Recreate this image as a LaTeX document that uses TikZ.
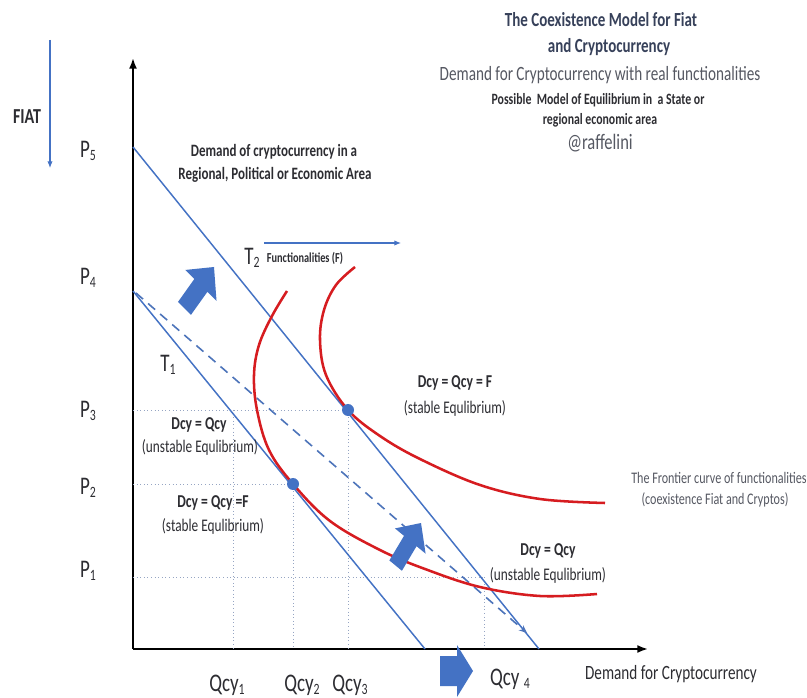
\documentclass[tikz,border=0pt]{standalone}
\usepackage{fontspec}
\setmainfont{Carlito}[FakeStretch=0.75]
\usetikzlibrary{arrows.meta}
\definecolor{lblue}{RGB}{68,114,196}
\definecolor{rred}{RGB}{214,28,32}
\definecolor{txt}{RGB}{45,45,50}
\definecolor{ttl}{RGB}{55,65,90}
\definecolor{subt}{RGB}{85,88,98}
\definecolor{dotc}{RGB}{150,165,195}
\newcommand\fsz[1]{\fontsize{#1}{#1}\selectfont}
\newcommand\lowsub[1]{\raisebox{-0.3ex}{\fontsize{0.62em}{0.62em}\selectfont #1}}
\tikzset{
  lbl/.style={inner sep=0pt, text=txt},
  bluel/.style={draw=lblue, line width=1.1pt},
  redc/.style={draw=rred, line width=1.9pt},
  guide/.style={draw=dotc, line width=0.7pt, dotted},
  blockarr/.style={fill=lblue},
  eqdot/.style={circle, fill=lblue, minimum size=9pt, inner sep=0pt},
}
\begin{document}
\begin{tikzpicture}[x=0.75pt,y=-0.75pt]
\useasboundingbox (0,0) rectangle (807,698);
\fill[white] (0,0) rectangle (807,698);

% title block
\node[lbl, text=ttl, font=\fsz{15}\bfseries] (t1) at (601,20) {The Coexistence Model for Fiat};
\node[lbl, text=ttl, font=\fsz{15}\bfseries] (t2) at (609,47) {and Cryptocurrency};
\node[lbl, text=subt, font=\fsz{15.2}] (t3) at (600,75) {Demand for Cryptocurrency with real functionalities};
\node[lbl, font=\fsz{11.8}\bfseries] (t4) at (598,100) {Possible\ \ Model of Equilibrium in\ \ a State or};
\node[lbl, font=\fsz{11.8}\bfseries] (t5) at (600,120) {regional economic area};
\node[lbl, text=subt, font=\fsz{16.5}] (t6) at (600,143) {@raffelini};

% axes
\coordinate (O) at (133,649);
\coordinate (ytop) at (133,58);
\coordinate (xend) at (648,649);
\draw[line width=1.5pt, -{Latex[length=8pt,width=6pt]}] (O) -- (ytop);
\draw[line width=1.5pt, -{Latex[length=8pt,width=6pt]}] (O) -- (xend);

% FIAT
\node[lbl, font=\fsz{16}\bfseries] (fiat) at (27,117) {FIAT};
\coordinate (fa1) at (50,40);
\coordinate (fa2) at (50,168);
\draw[draw=lblue, line width=0.8pt, -{Latex[length=5pt,width=4pt]}] (fa1) -- (fa2);

% P labels
\node[lbl, font=\fsz{19}] (p5) at (88,151) {P\lowsub{5}};
\node[lbl, font=\fsz{19}] (p4) at (88,278) {P\lowsub{4}};
\node[lbl, font=\fsz{19}] (p3) at (88,411) {P\lowsub{3}};
\node[lbl, font=\fsz{19}] (p2) at (88,488) {P\lowsub{2}};
\node[lbl, font=\fsz{19}] (p1) at (88,571) {P\lowsub{1}};

% guide lines
\coordinate (d3) at (348,410);
\coordinate (d2) at (293,484);
\coordinate (g1) at (484,577);
\draw[guide] (133,410) -- (d3);
\draw[guide] (133,484) -- (d2);
\draw[guide] (133,577) -- (g1);
\draw[guide] (233,410) -- (233,649);
\draw[guide] (d2) -- (293,649);
\draw[guide] (d3) -- (348,649);
\draw[guide] (g1) -- (484,649);

% demand lines
\coordinate (T2a) at (133,147);
\coordinate (T2b) at (539,649);
\coordinate (T1a) at (133,291);
\coordinate (T1b) at (425,649);
\coordinate (Da) at (136,293);
\coordinate (Db) at (527,633);
\draw[bluel] (T2a) -- (T2b);
\draw[bluel] (T1a) -- (T1b);
\draw[draw=lblue!85!gray, line width=1.2pt, dash pattern=on 7pt off 5pt, -{Stealth[length=6pt,width=5pt]}] (Da) -- (Db);

% red frontier curves
\draw[redc] plot[smooth, tension=0.6] coordinates {(287,291) (272,316) (259,345) (254,375) (257,410) (269,450) (293,484) (330,521) (380,550) (425,569) (480,587) (540,596) (597,594)};
\draw[redc] plot[smooth, tension=0.6] coordinates {(355,267) (336,285) (324,310) (320,340) (326,375) (348,410) (380,436) (420,459) (480,485) (540,499) (605,503)};

% equilibrium dots
\node[eqdot] (e3) at (d3) {};
\node[eqdot] (e2) at (d2) {};

% block arrows
\fill[blockarr, shift={(214,267)}, xscale=0.85, rotate=50] (0,0) -- (-24,24) -- (-24,10) -- (-54,10) -- (-54,-10) -- (-24,-10) -- (-24,-24) -- cycle;
\fill[blockarr, shift={(421,523)}, xscale=0.85, rotate=55] (0,0) -- (-22,22) -- (-22,9) -- (-52,9) -- (-52,-9) -- (-22,-9) -- (-22,-22) -- cycle;
\fill[blockarr, shift={(473,671)}] (0,0) -- (-16,-26) -- (-16,-15) -- (-33,-15) -- (-33,15) -- (-16,15) -- (-16,26) -- cycle;

% labels in plot
\node[lbl, font=\fsz{13}\bfseries] (dem1) at (274,152) {Demand of cryptocurrency in a};
\node[lbl, font=\fsz{13}\bfseries] (dem2) at (275,175) {Regional, Political or Economic Area};
\node[lbl, font=\fsz{19}] (tt2) at (252,258) {T\lowsub{2}};
\node[lbl, font=\fsz{19}] (tt1) at (168,365) {T\lowsub{1}};
\node[lbl, font=\fsz{10.3}\bfseries] (func) at (305,258) {Functionalities (F)};
\coordinate (fn1) at (264,243);
\coordinate (fn2) at (401,243);
\draw[draw=lblue, line width=0.8pt, -{Latex[length=5pt,width=4pt]}] (fn1) -- (fn2);

\node[lbl, font=\fsz{13.6}\bfseries] (q1a) at (199,425) {Dcy = Qcy};
\node[lbl, font=\fsz{13.3}] (q1b) at (200,447) {(unstable Equlibrium)};
\node[lbl, font=\fsz{13.6}\bfseries] (q2a) at (213,503) {Dcy = Qcy =F};
\node[lbl, font=\fsz{13.3}] (q2b) at (213,526) {(stable Equlibrium)};
\node[lbl, font=\fsz{13.6}\bfseries] (q3a) at (455,383) {Dcy = Qcy = F};
\node[lbl, font=\fsz{13.3}] (q3b) at (455,408) {(stable Equlibrium)};
\node[lbl, font=\fsz{13.6}\bfseries] (q4a) at (548,551) {Dcy = Qcy};
\node[lbl, font=\fsz{13.3}] (q4b) at (548,575) {(unstable Equlibrium)};
\node[lbl, text=subt, font=\fsz{12.1}] (fr1) at (719,478) {The Frontier curve of functionalities};
\node[lbl, text=subt, font=\fsz{12.1}] (fr2) at (715,500) {(coexistence Fiat and Cryptos)};

% x labels
\node[lbl, font=\fsz{19}] (x1) at (227,685) {Qcy\lowsub{1}};
\node[lbl, font=\fsz{19}] (x2) at (302,685) {Qcy\lowsub{2}};
\node[lbl, font=\fsz{19}] (x3) at (350,685) {Qcy\lowsub{3}};
\node[lbl, font=\fsz{19}] (x4) at (510,679) {Qcy \lowsub{4}};
\node[lbl, font=\fsz{15.2}] (xl) at (671,674) {Demand for Cryptocurrency};
\end{tikzpicture}
\end{document}
